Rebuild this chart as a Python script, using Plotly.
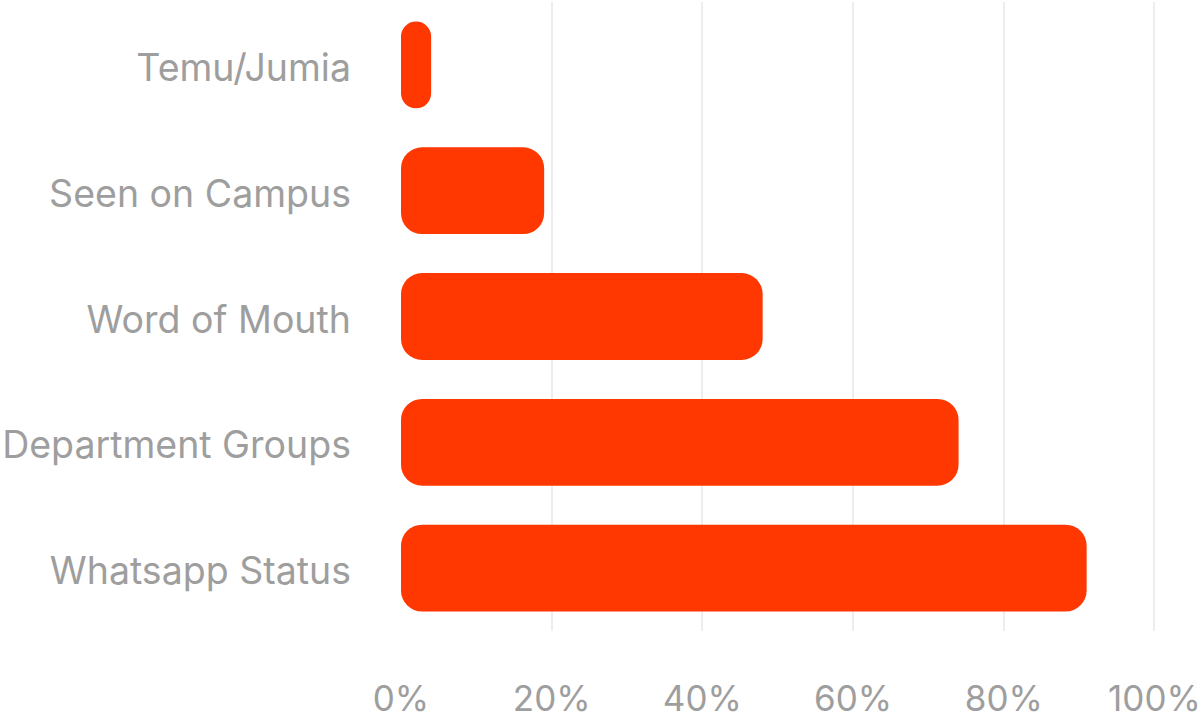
import plotly.graph_objects as go

# data
channels = ["Temu/Jumia", "Seen on Campus", "Word of Mouth",
            "Department Groups", "Whatsapp Status"]
shares = [4, 19, 48, 74, 91]
x_ticks = [0, 20, 40, 60, 80, 100]
x_tick_labels = ["0%", "20%", "40%", "60%", "80%", "100%"]

BAR_COLOR = "#FF3700"
TEXT_COLOR = "#9E9E9E"
FONT_SIZE = 37.5

# an explicit base makes plotly round both ends of each bar, like the original
bar_base = [0] * len(shares)

fig = go.Figure(
    go.Bar(
        x=shares,
        base=bar_base,
        y=channels,
        orientation="h",
        marker=dict(color=BAR_COLOR, line=dict(width=0)),
        hoverinfo="skip",
    )
)

fig.update_layout(
    width=1200,
    height=721,
    # x range runs a bit past 100 so the 100% grid line is drawn
    margin=dict(l=401, r=38, t=2, b=90),
    paper_bgcolor="white",
    plot_bgcolor="white",
    bargap=0.31,
    barcornerradius=21,
    showlegend=False,
    font=dict(family="Inter", color=TEXT_COLOR, size=FONT_SIZE),
)

fig.update_xaxes(
    range=[0, 101],
    tickvals=x_ticks,
    ticktext=x_tick_labels,
    showgrid=True,
    gridcolor="#EDEDED",
    gridwidth=1.5,
    zeroline=False,
    showline=False,
    ticks="",
    automargin=False,
    ticklabeloverflow="allow",
    ticklabelstandoff=44,
    tickfont=dict(size=35, color=TEXT_COLOR),
)

fig.update_yaxes(
    autorange="reversed",
    showgrid=False,
    zeroline=False,
    showline=False,
    ticks="",
    automargin=False,
    ticklabeloverflow="allow",
    ticklabelstandoff=49,
    ticklabelshift=-3,
    tickfont=dict(size=FONT_SIZE, color=TEXT_COLOR),
)

# drop the browser's default body margin so the figure sits at the page corner
fig.write_html("out.html", config={"displayModeBar": False},
               post_script="document.body.style.margin='0';")
